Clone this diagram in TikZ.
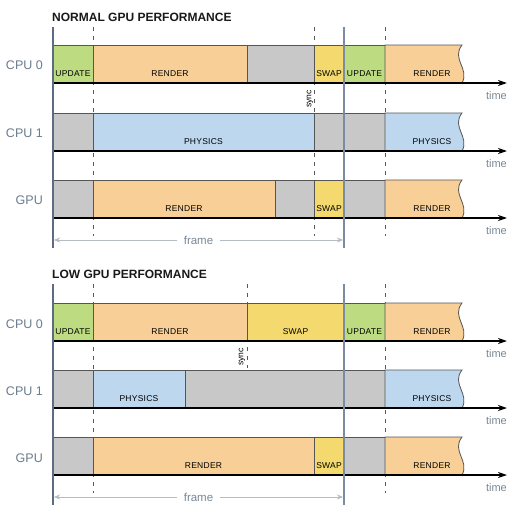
\documentclass[tikz,border=0pt]{standalone}
\usepackage{fontspec}
\setmainfont{Liberation Sans}
\newfontfamily\boxfont[LetterSpace=3]{Liberation Sans}
\usetikzlibrary{arrows.meta}
\definecolor{cupd}{HTML}{BDDC82}
\definecolor{cren}{HTML}{F7CF97}
\definecolor{cgry}{HTML}{C8C8C8}
\definecolor{cswp}{HTML}{F3D96E}
\definecolor{cphy}{HTML}{BDD7EE}
\definecolor{cedge}{HTML}{555555}
\definecolor{clab}{HTML}{6B7C8C}
\definecolor{cframe}{HTML}{7B8BA3}
\definecolor{caxis}{HTML}{5D6C82}
\definecolor{cfr}{HTML}{B4BCC4}
\definecolor{ctime}{HTML}{7A8896}
\tikzset{
  boxlbl/.style={anchor=base,inner sep=0pt,font=\boxfont\fontsize{8.5}{9}\selectfont,text=black},
  rowlbl/.style={anchor=base east,inner sep=0pt,font=\fontsize{12.5}{13}\selectfont,text=clab},
  timelbl/.style={anchor=base east,inner sep=0pt,font=\fontsize{11}{12}\selectfont,text=ctime},
  titlelbl/.style={anchor=base west,inner sep=0pt,font=\fontsize{12}{13}\selectfont\bfseries,text=black!90},
  synclbl/.style={rotate=90,inner sep=0pt,font=\fontsize{8.5}{9}\selectfont,text=black},
  framelbl/.style={fill=white,inner xsep=7pt,inner ysep=1pt,font=\fontsize{11.5}{12}\selectfont,text=ctime},
  timeax/.style={line width=1.5pt,black,-{Stealth[length=9pt,width=6pt]}},
  frameax/.style={line width=0.9pt,cfr,{Stealth[length=6pt,width=5pt,fill=caxis]}-{Stealth[length=6pt,width=5pt,fill=caxis]}},
  leftax/.style={line width=2pt,caxis},
  frameln/.style={line width=2pt,cframe},
  dashln/.style={line width=0.8pt,black!65,dash pattern=on 4pt off 5pt},
  segbox/.style={draw=cedge,line width=0.8pt}
}
% name, x1, x2, top, fill, text
\newcommand\seg[6]{%
  \filldraw[segbox,fill=#5] (#2,#4) rectangle (#3,#4+38);
  \node[boxlbl] (#1) at ({(#2+#3)/2},#4+31) {#6};}
% name, top, fill, text
\newcommand\wseg[4]{%
  \filldraw[segbox,fill=#3] (385,#2) -- (462,#2) .. controls (451,#2+14) and (470,#2+24) .. (462,#2+38) -- (385,#2+38) -- cycle;
  \node[boxlbl] (#1) at (432,#2+31) {#4};}
% name, axis y
\newcommand\tax[2]{%
  \coordinate (#1s) at (53,#2);
  \coordinate (#1e) at (507,#2);
  \draw[timeax] (#1s) -- (#1e);
  \node[timelbl] (#1t) at (507,#2+16) {time};}
\begin{document}
\begin{tikzpicture}[x=1pt,y=-1pt]
\useasboundingbox (0,0) rectangle (512,514);
\fill[white] (0,0) rectangle (512,514);

% ================= NORMAL =================
\node[titlelbl] (title1) at (52,21) {NORMAL GPU PERFORMANCE};
\coordinate (d1a) at (93,27);  \coordinate (d1b) at (93,236);
\coordinate (d2a) at (314,27); \coordinate (d2b) at (314,236);
\coordinate (d3a) at (385,27); \coordinate (d3b) at (385,236);
\draw[dashln] (d1a) -- (d1b);
\draw[dashln] (d2a) -- (d2b);
\draw[dashln] (d3a) -- (d3b);

\seg{a1}{53}{93}{45}{cupd}{UPDATE}
\seg{a2}{93}{247}{45}{cren}{RENDER}
\seg{a3}{247}{314}{45}{cgry}{}
\seg{a4}{314}{344}{45}{cswp}{SWAP}
\seg{a5}{344}{385}{45}{cupd}{UPDATE}
\wseg{a6}{45}{cren}{RENDER}

\seg{b1}{53}{93}{113}{cgry}{}
\seg{b2}{93}{314}{113}{cphy}{PHYSICS}
\seg{b3}{314}{385}{113}{cgry}{}
\wseg{b4}{113}{cphy}{PHYSICS}

\seg{c1}{53}{93}{180}{cgry}{}
\seg{c2}{93}{275}{180}{cren}{RENDER}
\seg{c3}{275}{314}{180}{cgry}{}
\seg{c4}{314}{344}{180}{cswp}{SWAP}
\seg{c5}{344}{385}{180}{cgry}{}
\wseg{c6}{180}{cren}{RENDER}

\tax{ta}{83}
\tax{tb}{151}
\tax{tc}{218}

\node[synclbl] (sync1) at (310,99) {sync};

\node[rowlbl] (r1) at (43,69) {CPU 0};
\node[rowlbl] (r2) at (43,137) {CPU 1};
\node[rowlbl] (r3) at (43,204) {GPU};

\coordinate (fa1) at (54,240); \coordinate (fa2) at (343,240);
\draw[frameax] (fa1) -- (fa2);
\node[framelbl] (frame1) at (198.5,240) {frame};

\coordinate (l1a) at (53,27); \coordinate (l1b) at (53,248);
\draw[leftax] (l1a) -- (l1b);
\coordinate (v1a) at (344,27); \coordinate (v1b) at (344,248);
\draw[frameln] (v1a) -- (v1b);

% ================= LOW =================
\node[titlelbl] (title2) at (52,278) {LOW GPU PERFORMANCE};
\coordinate (e1a) at (93,284);  \coordinate (e1b) at (93,493);
\coordinate (e2a) at (247,284); \coordinate (e2b) at (247,368);
\coordinate (e3a) at (385,284); \coordinate (e3b) at (385,493);
\draw[dashln] (e1a) -- (e1b);
\draw[dashln] (e2a) -- (e2b);
\draw[dashln] (e3a) -- (e3b);

\seg{g1}{53}{93}{303}{cupd}{UPDATE}
\seg{g2}{93}{247}{303}{cren}{RENDER}
\seg{g3}{247}{344}{303}{cswp}{SWAP}
\seg{g4}{344}{385}{303}{cupd}{UPDATE}
\wseg{g5}{303}{cren}{RENDER}

\seg{h1}{53}{93}{370}{cgry}{}
\seg{h2}{93}{185}{370}{cphy}{PHYSICS}
\seg{h3}{185}{385}{370}{cgry}{}
\wseg{h4}{370}{cphy}{PHYSICS}

\seg{k1}{53}{93}{437}{cgry}{}
\seg{k2}{93}{314}{437}{cren}{RENDER}
\seg{k3}{314}{344}{437}{cswp}{SWAP}
\seg{k4}{344}{385}{437}{cgry}{}
\wseg{k5}{437}{cren}{RENDER}

\tax{tg}{341}
\tax{th}{408}
\tax{tk}{475}

\node[synclbl] (sync2) at (242,357) {sync};

\node[rowlbl] (s1) at (43,328) {CPU 0};
\node[rowlbl] (s2) at (43,395) {CPU 1};
\node[rowlbl] (s3) at (43,462) {GPU};

\coordinate (fb1) at (54,497); \coordinate (fb2) at (343,497);
\draw[frameax] (fb1) -- (fb2);
\node[framelbl] (frame2) at (198.5,497) {frame};

\coordinate (l2a) at (53,284); \coordinate (l2b) at (53,505);
\draw[leftax] (l2a) -- (l2b);
\coordinate (v2a) at (344,284); \coordinate (v2b) at (344,505);
\draw[frameln] (v2a) -- (v2b);
\end{tikzpicture}
\end{document}
